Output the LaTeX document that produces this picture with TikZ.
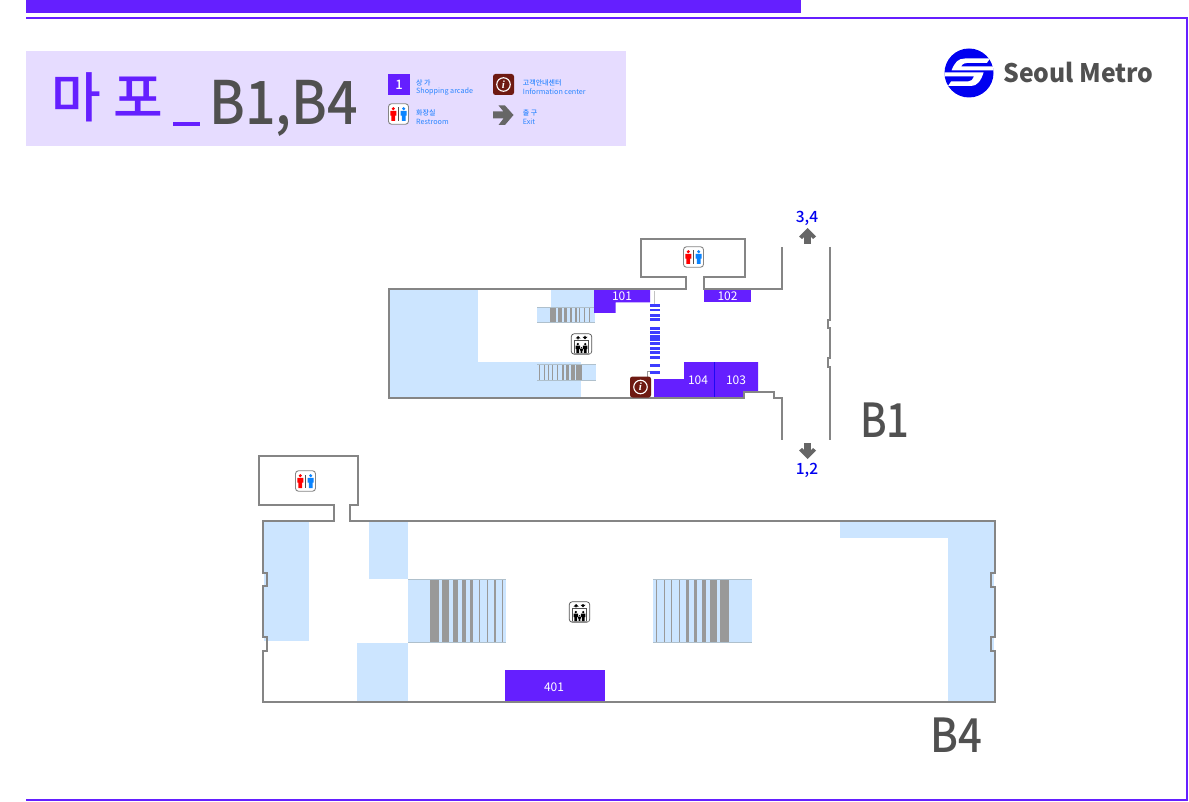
\documentclass[tikz,border=0pt]{standalone}
\usepackage{fontspec}
\usepackage{graphicx}
\setmainfont{Noto Sans CJK KR}
\newfontfamily\krfont{Noto Sans CJK KR}
\newfontfamily\medfont{Noto Sans CJK KR Medium}
\newfontfamily\infofont{Liberation Serif}
\definecolor{brandpurple}{HTML}{651FFF}
\definecolor{panelbg}{HTML}{E6DCFF}
\definecolor{wallgray}{HTML}{858585}
\definecolor{floorblue}{HTML}{CCE5FF}
\definecolor{stairgray}{HTML}{999999}
\definecolor{stairedge}{HTML}{AFC0CC}
\definecolor{rungblue}{HTML}{3D3DFF}
\definecolor{infobrown}{HTML}{6E1A12}
\definecolor{exitgray}{HTML}{666666}
\definecolor{labelgray}{HTML}{505050}
\definecolor{legendblue}{HTML}{2A86FF}
\definecolor{metroblue}{HTML}{0000F0}
\definecolor{wcblue}{HTML}{0A84FF}
\definecolor{wcred}{HTML}{FF0000}
\tikzset{
  wall/.style={draw=wallgray,line width=2pt,line join=miter,fill=none},
  floorarea/.style={fill=floorblue,draw=none},
  shop/.style={fill=brandpurple,draw=none},
  shoptext/.style={text=white,font=\krfont\fontsize{12}{12}\selectfont,inner sep=0pt},
  legendmain/.style={text=legendblue,anchor=west,inner sep=0pt,font=\krfont\fontsize{7.2}{8}\selectfont},
  legendkr/.style={text=legendblue,anchor=west,inner sep=0pt,font=\medfont\fontsize{7}{8}\selectfont},
  exitnum/.style={text=metroblue,inner sep=0pt,font=\medfont\fontsize{15.5}{16}\selectfont},
  floorname/.style={text=labelgray,inner sep=0pt,anchor=base,font=\medfont\fontsize{47}{47}\selectfont},
  stairbox/.style={fill=floorblue,draw=none},
}
\newcommand{\figperson}[4]{%
  \fill[#4] (#1,#2+1.7*#3) circle[radius=1.7*#3];
  \fill[#4] (#1-3*#3,#2+3.8*#3) -- (#1+3*#3,#2+3.8*#3) -- (#1+3*#3,#2+8.6*#3)
     -- (#1+1.9*#3,#2+8.6*#3) -- (#1+1.9*#3,#2+14*#3) -- (#1-1.9*#3,#2+14*#3)
     -- (#1-1.9*#3,#2+8.6*#3) -- (#1-3*#3,#2+8.6*#3) -- cycle;}
\newcommand{\wcicon}[3]{%
  \begin{scope}[shift={(#1,#2)}]
    \node[draw=wallgray,fill=white,rounded corners=3pt,line width=.9pt,minimum width=20pt,minimum height=20.5pt,inner sep=0pt] (#3) at (0,0) {};
    \figperson{-5.2}{-7}{1}{wcred}
    \figperson{5.2}{-7}{1}{wcblue}
    \fill[labelgray] (-.9,-6.5) rectangle (.6,7);
  \end{scope}}
\newcommand{\elevicon}[3]{%
  \begin{scope}[shift={(#1,#2)}]
    \node[draw=labelgray,fill=white,rounded corners=3pt,line width=.7pt,minimum width=20.5pt,minimum height=20.5pt,inner sep=0pt] (#3) at (0,0) {};
    \draw[labelgray,line width=.6pt] (-7,9.5) -- (-7,-3.8) -- (7,-3.8) -- (7,9.5);
    \fill[stairgray] (-9,8.8) rectangle (9,10.2);
    \fill[black] (-3.5,-8) -- (-6,-5.5) -- (-4.2,-5.5) -- (-4.2,-4.6) -- (-2.8,-4.6) -- (-2.8,-5.5) -- (-1,-5.5) -- cycle;
    \fill[black] (3.5,-4.6) -- (6,-7.1) -- (4.2,-7.1) -- (4.2,-8) -- (2.8,-8) -- (2.8,-7.1) -- (1,-7.1) -- cycle;
    \figperson{-3.7}{-1.2}{.74}{black}
    \figperson{3.7}{-1.2}{.74}{black}
    \figperson{0}{3}{.42}{black}
  \end{scope}}
\newcommand{\infoicon}[3]{%
  \node[fill=infobrown,rounded corners=2.5pt,minimum width=21pt,minimum height=21pt,inner sep=0pt] (#3) at (#1,#2) {};
  \node[draw=white,line width=1.1pt,circle,minimum size=13.5pt,inner sep=0pt,text=white,font=\infofont\bfseries\itshape\fontsize{11}{11}\selectfont] (#3t) at (#1,#2) {i};}
\begin{document}
\begin{tikzpicture}[x=1pt,y=-1pt]
\useasboundingbox (0,0) rectangle (1189,802);
\fill[white] (0,0) rectangle (1189,802);
\fill[brandpurple] (26,0) rectangle (801,13);
\draw[brandpurple,line width=2pt] (26,18.5) -- (1187,18.5) -- (1187,800) -- (26,800);
\fill[panelbg] (26,51) rectangle (626,146);
\node[anchor=base west,inner sep=0pt,text=brandpurple,font=\medfont\fontsize{54}{54}\selectfont] (titlekr) at (51,118) {마 포};
\fill[brandpurple] (173,122.5) rectangle (200,126);
\node[anchor=base west,inner sep=0pt,text=labelgray,font=\medfont\fontsize{60}{60}\selectfont] (titleen) at (209,125) {\scalebox{.895}[1]{B1,B4}};
\node[fill=brandpurple,minimum size=21.5pt,inner sep=0pt,text=white,font=\medfont\fontsize{13}{13}\selectfont] (legshop) at (399,84.5) {1};
\node[legendkr] (lt1) at (416,83) {상 가};
\node[legendmain] (lt2) at (416,92) {Shopping arcade};
\infoicon{503.5}{84.5}{leginfo}
\node[legendkr] (lt3) at (522.7,83) {고객안내센터};
\node[legendmain] (lt4) at (522.7,92) {Information center};
\wcicon{398.5}{114}{legwc}
\node[legendkr] (lt5) at (416,113) {화장실};
\node[legendmain] (lt6) at (416,122) {Restroom};
\fill[exitgray] (493,111.5) -- (503.5,111.5) -- (498.5,105.5) -- (505,105.5) -- (513.5,115) -- (505,125) -- (498.5,125) -- (503.5,118.5) -- (493,118.5) -- cycle;
\node[legendkr] (lt7) at (522.7,113) {출 구};
\node[legendmain] (lt8) at (522.7,122) {Exit};
% logo
\fill[metroblue] (969,73) circle[radius=24.5];
\begin{scope}
  \clip (969,73) circle[radius=24.5];
  \fill[white] (990,58.5) -- (965,58.5) .. controls (958,58.5) and (955,62) .. (951.5,70.5) -- (995,70.5) -- (995,66.5) -- (961,66.5) .. controls (963,63.5) and (965,62.8) .. (968,62.8) -- (987,62.8) -- cycle;
  \fill[white] (940,72.5) -- (983.5,72.5) .. controls (981,81) and (977,86) .. (971,86) -- (948,86) -- (951,81.5) -- (968,81.5) .. controls (971,81.5) and (973,79.5) .. (974,76.5) -- (940,76.5) -- cycle;
\end{scope}
\node[anchor=base west,inner sep=0pt,text=labelgray,font=\krfont\bfseries\fontsize{25.5}{26}\selectfont] (logotext) at (1003,82.5) {\scalebox{.97}[1]{Seoul Metro}};
% B1 floor
\fill[floorarea] (389,290) rectangle (478,398);
\fill[floorarea] (478,362) rectangle (581,398);
\fill[floorarea] (551,290) rectangle (595,307);
\fill[stairbox] (537,307) rectangle (595,323);
\fill[stairbox] (537,364) rectangle (596,380);
\foreach \a/\b in {550/556,558/562,564/567,569.5/572,575/576.5,579/580,584/585,589/590}
  \fill[stairgray] (\a,307) rectangle (\b,323);
\foreach \a/\b in {576/582,571/575,566/569,561.5/564,556.5/558,552/553,548/549,543.5/544.5,539/540}
  \fill[stairgray] (\a,364) rectangle (\b,380);
\draw[stairedge,line width=1pt] (537,307.3) -- (595,307.3) (537,323) -- (595,323) (537,364.3) -- (596,364.3) (537,380) -- (596,380);
\fill[shop] (594,290) -- (650,290) -- (650,302.5) -- (615.5,302.5) -- (615.5,313) -- (594,313) -- cycle;
\fill[shop] (703.5,290) rectangle (751,302.5);
\fill[shop] (684,362) -- (714,362) -- (714,397) -- (654,397) -- (654,379) -- (684,379) -- cycle;
\fill[shop] (714,362) -- (758,362) -- (758,391) -- (744,391) -- (744,397) -- (714,397) -- cycle;
\draw[metroblue!70!brandpurple,line width=.7pt] (714,362) -- (714,397);
\node[shoptext] (s101) at (622,296.5) {101};
\node[shoptext] (s102) at (727.5,296.5) {102};
\node[shoptext] (s104) at (698,380.5) {104};
\node[shoptext] (s103) at (736,380.5) {103};
\draw[wall] (389,398) -- (389,289.5) -- (685.5,289.5) -- (685.5,277.5) -- (641,277.5) -- (641,239) -- (745,239) -- (745,277.5) -- (704,277.5) -- (704,289.5) -- (781.5,289.5) -- (781.5,247);
\draw[wall] (388,398) -- (744,398) -- (744,391.5) -- (773.5,391.5) -- (773.5,398) -- (781.5,398) -- (781.5,440);
\draw[wall] (830,247) -- (830,320.5) -- (828,320.5) -- (828,328) -- (830,328) -- (830,358.5) -- (828,358.5) -- (828,366.5) -- (830,366.5) -- (830,440);
\draw[stairgray!60,line width=1.5pt] (654.5,291) -- (654.5,304);
\draw[stairgray,line width=.9pt] (654,371.5) -- (647.5,371.5) -- (647.5,377);
\foreach \r in {304,308.7,314,318.3,327,331.5,335,338.5,342,347,351,356,364,371}
  \fill[rungblue] (650,\r) rectangle (660,\r+2.7);
\wcicon{693.5}{257}{b1wc}
\elevicon{581.5}{344}{b1el}
\infoicon{640.5}{387}{b1info}
% exit arrows
\fill[exitgray] (807.5,228) -- (816,236.5) -- (813,239) -- (810.8,236.8) -- (810.8,244) -- (804.2,244) -- (804.2,236.8) -- (802,239) -- (799,236.5) -- cycle;
\fill[exitgray] (807.5,459) -- (816,450.5) -- (813,448) -- (810.8,450.2) -- (810.8,443) -- (804.2,443) -- (804.2,450.2) -- (802,448) -- (799,450.5) -- cycle;
\node[exitnum] (e34) at (807,218) {3,4};
\node[exitnum] (e12) at (807,470) {1,2};
\node[floorname] (lb1) at (885,437) {\scalebox{.85}[1]{B1}};
% B4 floor
\fill[floorarea] (264,521) rectangle (309,641);
\fill[floorarea] (369,521) rectangle (408,579);
\fill[floorarea] (357,643) rectangle (408,702);
\fill[floorarea] (948,521) rectangle (994,702);
\fill[floorarea] (840,521) rectangle (994,538);
\fill[stairbox] (408,579) rectangle (506,642);
\fill[stairbox] (653,579) rectangle (752,642.5);
\foreach \a/\b in {429.7/439.3,442.3/449,453/457.7,461.7/465.7,470/473,478.7/480,486.7/487.7,494.3/495.5,502.3/503.3}
  \fill[stairgray] (\a,579) rectangle (\b,642);
\foreach \a/\b in {719.7/729.3,710.3/716.7,701.7/706,693.7/697.3,686/689,678.7/680,671.3/672.2,664/664.9,656.3/657.2}
  \fill[stairgray] (\a,579) rectangle (\b,642.5);
\draw[stairedge,line width=1pt] (408,579.3) -- (506,579.3) (408,642) -- (506,642) (653,579.3) -- (752,579.3) (653,642.5) -- (752,642.5);
\fill[shop] (505,670) rectangle (604.5,701);
\node[shoptext] (s401) at (554,687) {401};
\draw[wall] (334,520.8) -- (263,520.8) -- (263,572.7) -- (266.5,572.7) -- (266.5,586) -- (263,586) -- (263,636.7) -- (266.5,636.7) -- (266.5,650.5) -- (263,650.5) -- (263,702) -- (994.5,702) -- (994.5,651) -- (990.7,651) -- (990.7,637) -- (994.5,637) -- (994.5,587) -- (990.7,587) -- (990.7,572.5) -- (994.5,572.5) -- (994.5,520.8) -- (349.5,520.8) -- (349.5,505) -- (357.5,505) -- (357.5,455.5) -- (258.5,455.5) -- (258.5,505) -- (334,505) -- cycle;
\wcicon{305.5}{481}{b4wc}
\elevicon{579.5}{612}{b4el}
\node[floorname] (lb4) at (956,752) {\scalebox{.89}[1]{B4}};
\end{tikzpicture}
\end{document}
